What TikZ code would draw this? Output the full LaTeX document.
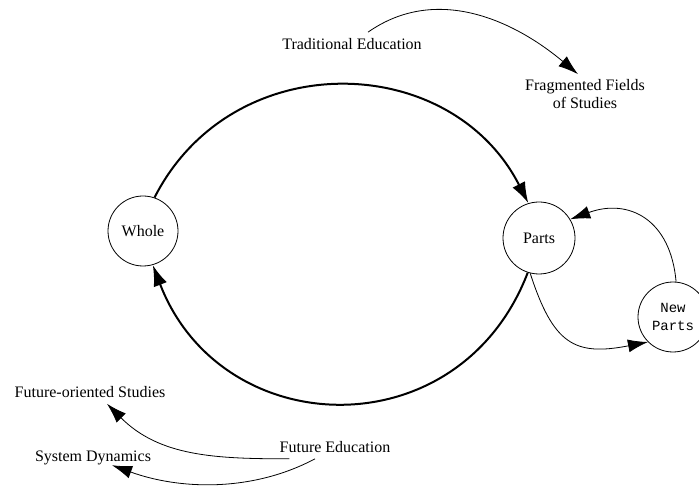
\documentclass[tikz,border=0pt]{standalone}
\usepackage{fontspec}
\setmainfont{Liberation Serif}
\setmonofont{Liberation Mono}
\usetikzlibrary{arrows.meta,positioning}

\begin{document}
\begin{tikzpicture}[x=1pt, y=1pt, every node/.style={font=\fontsize{16}{18}\selectfont, inner sep=1pt},
    ring/.style={draw, circle, line width=0.8pt},
    bigarc/.style={line width=2pt, -{Latex[length=21pt,width=14pt]}},
    thinarc/.style={line width=0.8pt, -{Latex[length=20pt,width=13pt]}}]
  \useasboundingbox (0,0) rectangle (699,-486);
  \node[ring, minimum size=70pt] (whole) at (143,-231) {Whole};
  \node[ring, minimum size=72pt] (parts) at (539,-238) {Parts};
  \node[ring, minimum size=70pt, align=center, font=\ttfamily\fontsize{14}{18}\selectfont] (newp) at (673,-317) {New\\Parts};
  \node (trad) at (352,-44) {Traditional Education};
  \node[align=center] (frag) at (585,-94) {Fragmented Fields\\of Studies};
  \node (fos) at (90,-392) {Future-oriented Studies};
  \node (sysd) at (93,-458) {System Dynamics};
  \node (fut) at (335,-447) {Future Education};
  \draw[bigarc] (whole.71) to[out=63, in=117, looseness=1.17] (parts.107);
  \draw[bigarc] (parts.252) to[out=249, in=291, looseness=1.3] (whole.286);
  \draw[thinarc] (newp.85) to[out=95, in=20, looseness=1.3] (parts.31);
  \draw[thinarc] (parts.256) to[out=288, in=191, looseness=1.4] (newp.225);
  \draw[thinarc] ([xshift=16pt,yshift=5pt]trad.north) to[out=35, in=140] ([xshift=-7pt,yshift=4pt]frag.north);
  \draw[thinarc] ([xshift=11pt,yshift=-5pt]fut.south west) to[out=180, in=315] ([xshift=17pt,yshift=-5pt]fos.south);
  \draw[thinarc] ([xshift=-20pt,yshift=-5pt]fut.south) to[out=208, in=340, looseness=0.9] ([xshift=19pt,yshift=1pt]sysd.south);
\end{tikzpicture}
\end{document}
